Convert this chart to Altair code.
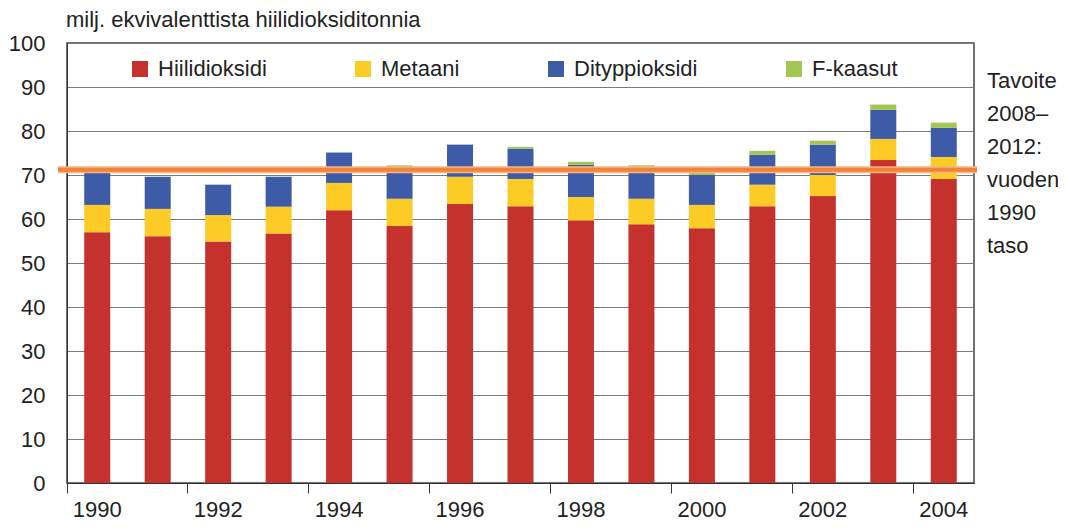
import altair as alt
import pandas as pd

years = list(range(1990, 2005))
gases = ["Hiilidioksidi", "Metaani", "Dityppioksidi", "F-kaasut"]
colors = ["#C5322D", "#FCCB25", "#3D5BA6", "#A3C552"]

co2 = [57.0, 56.1, 54.9, 56.7, 62.0, 58.4, 63.4, 62.9, 59.7, 58.8, 57.9, 62.9, 65.2, 73.4, 69.1]
ch4 = [6.2, 6.2, 6.0, 6.1, 6.2, 6.2, 6.2, 6.2, 5.3, 5.8, 5.3, 4.9, 4.8, 4.8, 5.0]
n2o = [7.6, 7.3, 6.9, 6.8, 6.9, 7.3, 7.3, 6.9, 7.3, 7.3, 6.8, 6.8, 6.9, 6.6, 6.6]
fgas = [0.1, 0.0, 0.0, 0.0, 0.0, 0.3, 0.0, 0.4, 0.7, 0.3, 1.0, 0.9, 0.9, 1.2, 1.2]
target = 71.2

title_text = "milj. ekvivalenttista hiilidioksiditonnia"
note_text = "Tavoite\n2008–\n2012:\nvuoden\n1990\ntaso"
tick_years = [1990, 1992, 1994, 1996, 1998, 2000, 2002, 2004]

rows = []
for i, y in enumerate(years):
    for k, (g, series) in enumerate(zip(gases, [co2, ch4, n2o, fgas])):
        rows.append({"year": y, "gas": g, "value": series[i], "ord": k})
df = pd.DataFrame(rows)

W, H = 907, 440
FONT = "Liberation Sans"

bars = alt.Chart(df).mark_bar(size=26).encode(
    x=alt.X("year:O", title=None,
            scale=alt.Scale(paddingInner=0, paddingOuter=0),
            axis=alt.Axis(values=tick_years, bandPosition=0, labelAngle=0,
                          tickSize=10, tickColor="#333", domainColor="#333",
                          labelPadding=6, labelFontSize=22, labelColor="#222",
                          grid=False)),
    y=alt.Y("value:Q", stack="zero", title=None,
            scale=alt.Scale(domain=[0, 100], nice=False),
            axis=alt.Axis(values=list(range(0, 101, 10)), tickSize=0,
                          labelPadding=22, labelFontSize=22, labelColor="#222",
                          grid=True, gridColor="#7a7a7a", domainColor="#333")),
    color=alt.Color("gas:N",
                    scale=alt.Scale(domain=gases, range=colors),
                    legend=alt.Legend(title=None, orient="none", legendX=62, legendY=15,
                                      direction="horizontal", columns=4,
                                      symbolType="square", symbolSize=256,
                                      symbolStrokeWidth=0, labelFontSize=22,
                                      labelColor="#222", labelOffset=7,
                                      columnPadding=85, padding=0)),
    order=alt.Order("ord:Q", sort="ascending"),
)

tdf = pd.DataFrame({"t": [target]})
rule_glow = alt.Chart(tdf).mark_rule(color="#F6B48A", strokeWidth=7).encode(
    y="t:Q", x=alt.value(-9), x2=alt.value(W + 3))
rule = alt.Chart(tdf).mark_rule(color="#F08434", strokeWidth=4).encode(
    y="t:Q", x=alt.value(-9), x2=alt.value(W + 3))

title = alt.Chart(pd.DataFrame({"s": [title_text]})).mark_text(
    align="left", baseline="alphabetic", fontSize=22, color="#222", font=FONT
).encode(text="s:N", x=alt.value(-1), y=alt.value(-16))

note = alt.Chart(pd.DataFrame({"s": [note_text]})).mark_text(
    align="left", baseline="alphabetic", fontSize=22, color="#222", font=FONT,
    lineBreak="\n", lineHeight=33
).encode(text="s:N", x=alt.value(W + 13), y=alt.value(45))

chart = alt.layer(bars, rule_glow, rule, title, note).properties(
    width=W, height=H,
    autosize=alt.AutoSizeParams(type="none"),
    padding={"left": 59, "top": 35, "right": 84, "bottom": 41},
).configure(font=FONT).configure_view(stroke="#444", strokeWidth=1.5)

chart.save("out.html", embed_options={"renderer": "svg", "actions": False})
